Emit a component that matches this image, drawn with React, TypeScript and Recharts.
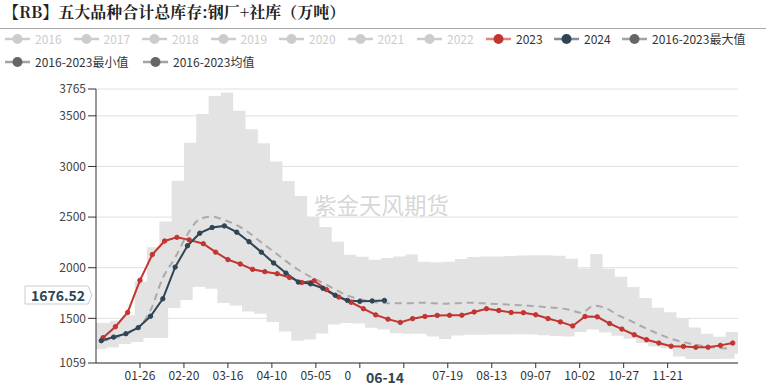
import React from 'react';
import { ComposedChart, Line, Area, XAxis, YAxis, CartesianGrid } from 'recharts';

// ---------- data ----------
const yTicks = [1059, 1500, 2000, 2500, 3000, 3500, 3765];
const xTickDays = [25, 50, 75, 100, 125, 150, 175, 200, 225, 250, 275, 300, 325];

// weekly values, 2023 (first week 2023-01-05)
const values2023 = [
  1309, 1417, 1558, 1876, 2130, 2264, 2300, 2275, 2237, 2154, 2080, 2037, 1984,
  1961, 1941, 1904, 1854, 1871, 1784, 1710, 1659, 1595, 1534, 1492, 1460, 1497,
  1519, 1529, 1530, 1531, 1563, 1595, 1578, 1558, 1556, 1535, 1498, 1465, 1425,
  1519, 1515, 1449, 1394, 1338, 1289, 1256, 1225, 1223, 1215, 1215, 1233, 1256,
];
// weekly values, 2024 (first week 2024-01-04)
const values2024 = [
  1279, 1315, 1348, 1408, 1521, 1693, 2006, 2217, 2341, 2397, 2413, 2351, 2257,
  2154, 2047, 1947, 1858, 1841, 1797, 1728, 1677, 1668, 1672, 1676.52,
];
// 2016-2023 mean, weekly
const valuesMean = [
  1280, 1300, 1345, 1410, 1580, 1900, 2100, 2330, 2480, 2505, 2470, 2420, 2345,
  2250, 2160, 2065, 1980, 1910, 1850, 1785, 1725, 1690, 1665, 1652, 1648, 1650,
  1655, 1648, 1645, 1650, 1655, 1648, 1642, 1636, 1630, 1622, 1612, 1603, 1585,
  1555, 1625, 1600, 1530, 1475, 1415, 1360, 1310, 1272, 1248, 1225, 1210, 1200,
];
// 2016-2023 max, weekly steps
const bandMax = [
  1454, 1476, 1530, 1864, 2203, 2456, 2860, 3235, 3518, 3696, 3728, 3551, 3367,
  3229, 3048, 2857, 2709, 2502, 2403, 2257, 2127, 2108, 2078, 2095, 2110, 2130,
  2060, 2055, 2060, 2085, 2105, 2110, 2110, 2115, 2120, 2122, 2122, 2118, 2088,
  1993, 2136, 1990, 1910, 1809, 1700, 1605, 1560, 1503, 1410, 1347, 1318, 1366, 1404,
];
// 2016-2023 min, weekly steps
const bandMin = [
  1197, 1213, 1246, 1266, 1306, 1306, 1602, 1680, 1809, 1792, 1651, 1627, 1568,
  1545, 1465, 1370, 1279, 1290, 1350, 1440, 1455, 1448, 1408, 1390, 1352, 1348,
  1348, 1320, 1296, 1330, 1338, 1338, 1340, 1340, 1342, 1340, 1332, 1325, 1321,
  1365, 1390, 1361, 1328, 1299, 1256, 1223, 1205, 1124, 1098, 1098, 1098, 1100, 1150,
];

const pointerDay = 165;
const hiddenTickLabels = [175];

// ---------- helpers ----------
const DAY = 86400000;
const AXIS_YEAR = 2024;
const dayOnAxis = (y: number, m: number, d: number) => {
  const dt = new Date(Date.UTC(y, m, d));
  return Math.round((Date.UTC(AXIS_YEAR, dt.getUTCMonth(), dt.getUTCDate()) - Date.UTC(AXIS_YEAR, 0, 1)) / DAY);
};
const weekly = (y: number, m: number, d: number, vals: number[]) =>
  vals.map((v, i) => ({ day: dayOnAxis(y, m, d + 7 * i), v }));
const fmt = (d: number) => {
  const dt = new Date(Date.UTC(AXIS_YEAR, 0, 1 + d));
  return `${String(dt.getUTCMonth() + 1).padStart(2, '0')}-${String(dt.getUTCDate()).padStart(2, '0')}`;
};
const tickFmt = (d: number) => (hiddenTickLabels.includes(d) ? '' : fmt(d));

const data2023 = weekly(2023, 0, 5, values2023);
const data2024 = weekly(2024, 0, 4, values2024);
const dataMean = weekly(2024, 0, 4, valuesMean);

// stepped band: explicit corner points so the range area is drawn with straight segments
const bandData = (() => {
  const pts = new Set<number>([0, 365]);
  bandMax.forEach((_, k) => { const d = 1 + 7 * k; if (d <= 365) pts.add(d); });
  bandMin.forEach((_, m) => { const d = 7 * m - 1; if (d > 0 && d <= 365) pts.add(d); });
  const clamp = (i: number, n: number) => Math.max(0, Math.min(n - 1, i));
  const sorted = Array.from(pts).sort((a, b) => a - b);
  const out: { day: number; band: number[] }[] = [];
  for (let i = 0; i < sorted.length - 1; i++) {
    const d = sorted[i];
    const band = [bandMin[clamp(Math.floor((d + 1) / 7), bandMin.length)], bandMax[clamp(Math.floor((d - 1) / 7), bandMax.length)]];
    out.push({ day: d, band });
    out.push({ day: sorted[i + 1], band });
  }
  return out;
})();

const RED = '#c23531';
const NAVY = '#2f4554';
const GREY = '#ccc';

const legendItems = [
  { name: '2016', color: GREY, active: false, x: 5, row: 0 },
  { name: '2017', color: GREY, active: false, x: 73.5, row: 0 },
  { name: '2018', color: GREY, active: false, x: 142, row: 0 },
  { name: '2019', color: GREY, active: false, x: 210.5, row: 0 },
  { name: '2020', color: GREY, active: false, x: 279, row: 0 },
  { name: '2021', color: GREY, active: false, x: 347.5, row: 0 },
  { name: '2022', color: GREY, active: false, x: 417, row: 0 },
  { name: '2023', color: RED, active: true, x: 486, row: 0 },
  { name: '2024', color: NAVY, active: true, x: 554, row: 0 },
  { name: '2016-2023最大值', color: '#666', active: true, x: 622, row: 0 },
  { name: '2016-2023最小值', color: '#666', active: true, x: 5, row: 1 },
  { name: '2016-2023均值', color: '#666', active: true, x: 143, row: 1 },
];

const FONT = '"Noto Sans CJK SC", "Noto Sans", sans-serif';

export default function App() {
  const lastLabel = values2024[values2024.length - 1].toFixed(2);
  return (
    <div style={{ position: 'absolute', left: 0, top: 0, width: 766, height: 387, background: '#fff', fontFamily: FONT, overflow: 'hidden' }}>
      <div style={{ position: 'absolute', left: 3, top: 2, fontSize: 16, lineHeight: '20px', fontWeight: 'bold', color: '#222', whiteSpace: 'nowrap', fontFamily: '"Noto Serif CJK SC", "Noto Sans CJK SC", serif' }}>
        【RB】五大品种合计总库存:钢厂+社库（万吨）
      </div>
      <div style={{ position: 'absolute', left: 0, top: 28, width: 766, height: 1, background: '#aaa' }} />
      {legendItems.map((it) => (
        <div key={it.name} style={{ position: 'absolute', left: it.x, top: (it.row === 0 ? 39 : 61.5) - 7, height: 14, display: 'flex', alignItems: 'center', whiteSpace: 'nowrap' }}>
          <svg width={25} height={14} style={{ display: 'block' }}>
            <line x1={0} x2={25} y1={7} y2={7} stroke={it.color} strokeWidth={2.5} strokeOpacity={it.active ? 0.6 : 1} />
            <circle cx={12.5} cy={7} r={5} fill={it.color} />
          </svg>
          <span style={{ marginLeft: 5, fontSize: 12, lineHeight: '14px', color: it.active ? '#333' : GREY }}>{it.name}</span>
        </div>
      ))}
      <div style={{ position: 'absolute', left: 0, top: 0 }}>
        <ComposedChart width={766} height={387} margin={{ top: 89, right: 28, bottom: 0, left: 36 }}>
          <CartesianGrid horizontal vertical={false} stroke="#e0e0e0" />
          <XAxis
            type="number"
            dataKey="day"
            domain={[0, 365]}
            ticks={xTickDays}
            interval={0}
            tickFormatter={tickFmt}
            height={24}
            tickSize={5}
            tickMargin={3}
            axisLine={{ stroke: '#333' }}
            tickLine={{ stroke: '#333' }}
            tick={{ fill: '#333', fontSize: 12 }}
            allowDataOverflow
          />
          <YAxis
            type="number"
            domain={[1059, 3765]}
            ticks={yTicks}
            interval={0}
            width={60}
            tickSize={8}
            tickMargin={2}
            axisLine={{ stroke: '#333' }}
            tickLine={{ stroke: '#333' }}
            tick={{ fill: '#444', fontSize: 12 }}
            allowDataOverflow
          />
          <Area data={bandData} dataKey="band" type="linear" stroke="none" fill="#e3e3e3" fillOpacity={1} isAnimationActive={false} dot={false} activeDot={false} />
          <Line data={dataMean} dataKey="v" type="monotone" stroke="#aaa" strokeWidth={2} strokeDasharray="7 5" dot={false} activeDot={false} isAnimationActive={false} />
          <Line data={data2023} dataKey="v" type="linear" stroke={RED} strokeWidth={2} dot={{ r: 2.2, fill: RED, stroke: RED, strokeWidth: 1 }} activeDot={false} isAnimationActive={false} />
          <Line data={data2024} dataKey="v" type="linear" stroke={NAVY} strokeWidth={2} dot={{ r: 2.2, fill: NAVY, stroke: NAVY, strokeWidth: 1 }} activeDot={false} isAnimationActive={false} />
        </ComposedChart>
      </div>
      <div style={{ position: 'absolute', left: 314, top: 192, fontSize: 22.5, lineHeight: '24px', color: 'rgba(150,150,150,0.4)', whiteSpace: 'nowrap', pointerEvents: 'none' }}>
        紫金天风期货
      </div>
      <div style={{ position: 'absolute', left: 351, top: 368, width: 68, height: 18, background: '#fff', textAlign: 'center', fontSize: 14, lineHeight: '18px', fontWeight: 'bold', color: NAVY }}>
        {fmt(pointerDay)}
      </div>
      <svg width={100} height={387} style={{ position: 'absolute', left: 0, top: 0, pointerEvents: 'none' }}>
        <path d="M25,286 H88 L92,295 L88,304 H25 Z" fill="#fff" stroke="#ccc" strokeWidth={1} />
        <text x={58} y={295} textAnchor="middle" dominantBaseline="central" fontSize={14} fontWeight="bold" fill={NAVY} fontFamily={FONT}>
          {lastLabel}
        </text>
      </svg>
    </div>
  );
}
